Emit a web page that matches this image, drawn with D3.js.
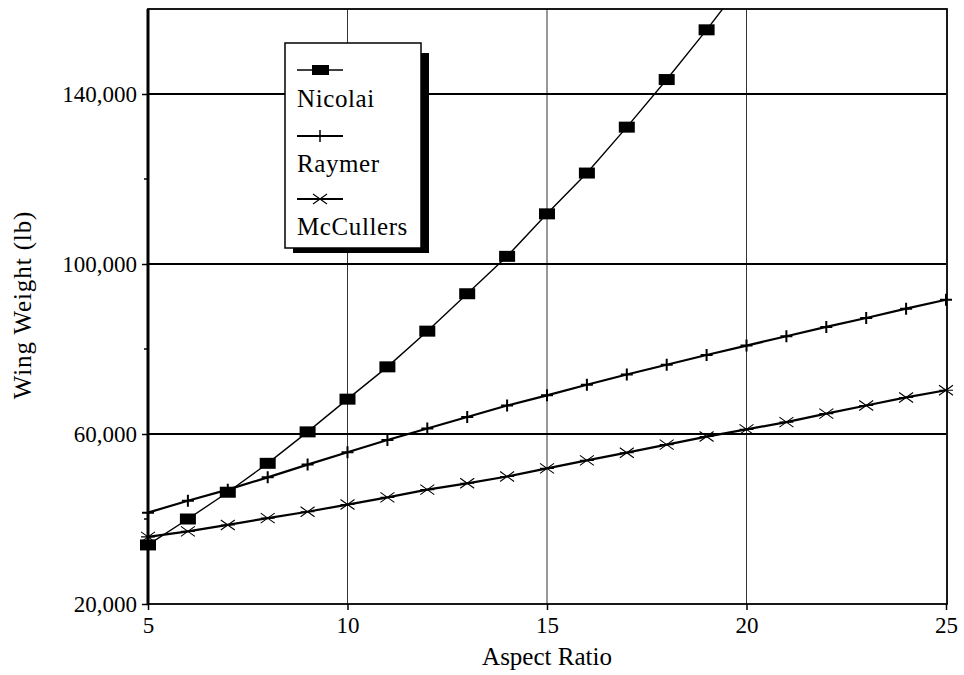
<!DOCTYPE html>
<html>
<head>
<meta charset="utf-8">
<script src="https://cdn.jsdelivr.net/npm/d3@7"></script>
<style>
  body { margin: 0; background: #fff; }
  svg { display: block; font-family: "Liberation Serif", "Times New Roman", serif; }
  .tick text { font-size: 23px; fill: #000; }
  .axlab { font-size: 25px; fill: #000; }
  .legtext { font-size: 25px; fill: #000; letter-spacing: 0.6px; }
</style>
</head>
<body>
<svg id="chart" width="964" height="675"></svg>
<script>
// aspect ratio vs wing weight, three methods
var aspect = [5,6,7,8,9,10,11,12,13,14,15,16,17,18,19,20,21,22,23,24,25];
var nicolaiAR = [5,6,7,8,9,10,11,12,13,14,15,16,17,18,19,20];
var nicolai = [33900,40000,46300,53100,60500,68200,75800,84200,93000,101800,111800,121400,132200,143400,155100,167300];
var raymer = [41500,44300,46900,49800,52800,55700,58600,61300,64000,66700,69100,71600,74000,76300,78600,80800,83000,85200,87300,89500,91600];
var mccullers = [35800,37100,38600,40200,41700,43400,45100,46900,48400,50000,51900,53800,55600,57500,59400,61100,62800,64800,66700,68600,70300];
var seriesNames = ["Nicolai","Raymer","McCullers"];
var xTicks = [5,10,15,20,25];
var yTicks = [20000,60000,100000,140000];
var yMinor = [40000,80000,120000];

const pLeft = 148, pRight = 946, pTop = 9, pBottom = 604;
const serif = "'Liberation Serif', 'Times New Roman', serif";

var x = d3.scaleLinear().domain([5,25]).range([pLeft,pRight]);
var y = d3.scaleLinear().domain([20000,160000]).range([pBottom,pTop]);

var svg = d3.select("#chart");

svg.append("clipPath").attr("id","plotclip")
  .append("rect")
    .attr("x",pLeft - 20).attr("y",pTop)
    .attr("width",(pRight - pLeft) + 40).attr("height",(pBottom - pTop) + 20);

// grid
svg.append("g").selectAll("line")
  .data([10,15,20])
  .enter().append("line")
    .attr("x1",function(d){return x(d);}).attr("x2",function(d){return x(d);})
    .attr("y1",pTop).attr("y2",pBottom)
    .attr("stroke","#333").attr("stroke-width",1);

svg.append("g").selectAll("line")
  .data([60000,100000,140000])
  .enter().append("line")
    .attr("x1",pLeft).attr("x2",pRight)
    .attr("y1",function(d){return y(d);}).attr("y2",function(d){return y(d);})
    .attr("stroke","#000").attr("stroke-width",1.8);

// frame
svg.append("rect")
  .attr("x",pLeft).attr("y",pTop)
  .attr("width",pRight - pLeft + 1).attr("height",pBottom - pTop)
  .attr("fill","none").attr("stroke","#000").attr("stroke-width",1.8);
svg.append("line")
  .attr("x1",pLeft).attr("x2",pLeft).attr("y1",pTop).attr("y2",pBottom)
  .attr("stroke","#000").attr("stroke-width",3);

// axes
var xAxis = d3.axisBottom(x).tickValues(xTicks).tickSize(6).tickFormat(d3.format("d"));
var gx = svg.append("g")
  .attr("transform","translate(0,"+ pBottom +")")
  .call(xAxis)
  .attr("font-family",serif).attr("font-size",23);
gx.select(".domain").remove();
gx.selectAll("line").attr("stroke-width",1.5);
gx.selectAll("text").attr("y",29).attr("dy",0);

var yAxis = d3.axisLeft(y).tickValues(yTicks).tickSize(6).tickPadding(5).tickFormat(d3.format(","));
var gy = svg.append("g")
  .attr("transform","translate("+ pLeft +",0)")
  .call(yAxis)
  .attr("font-family",serif).attr("font-size",23);
gy.select(".domain").remove();
gy.selectAll("line").attr("stroke-width",1.5);
gy.selectAll("text").attr("dy","0.33em");

svg.append("g").selectAll("line")
  .data(yMinor)
  .enter().append("line")
    .attr("x1",pLeft - 4).attr("x2",pLeft)
    .attr("y1",function(d){return y(d);}).attr("y2",function(d){return y(d);})
    .attr("stroke","#000").attr("stroke-width",1.5);

svg.append("text").attr("class","axlab")
  .attr("text-anchor","middle")
  .attr("transform","translate("+ ((pLeft + pRight) / 2) +",665)")
  .text("Aspect Ratio");

svg.append("text").attr("class","axlab")
  .attr("text-anchor","middle")
  .attr("letter-spacing","0.9px")
  .attr("transform","translate(31,305) rotate(-90)")
  .text("Wing Weight (lb)");

// lines
var plot = svg.append("g").attr("clip-path","url(#plotclip)");

var line = d3.line()
  .x(function(d){return x(d[0]);})
  .y(function(d){return y(d[1]);});

var nicPts = d3.zip(nicolaiAR, nicolai);
var rayPts = d3.zip(aspect, raymer);
var mcPts = d3.zip(aspect, mccullers);

plot.append("path").datum(rayPts)
  .attr("d",line).attr("fill","none").attr("stroke","#000").attr("stroke-width",2.2);
plot.append("path").datum(mcPts)
  .attr("d",line).attr("fill","none").attr("stroke","#000").attr("stroke-width",2.2);
plot.append("path").datum(nicPts)
  .attr("d",line).attr("fill","none").attr("stroke","#000").attr("stroke-width",1.4);

var plusPath = "M-6,0H6M0,-6V6";
var starPath = "M-7,-5L7,5M-7,5L7,-5M-7,0H7";

plot.selectAll(".ray").data(rayPts)
  .enter().append("path")
    .attr("class","ray")
    .attr("transform",function(d){return "translate("+ x(d[0]) +","+ y(d[1]) +")";})
    .attr("d",plusPath).attr("stroke","#000").attr("stroke-width",2).attr("fill","none");

plot.selectAll(".mc").data(mcPts)
  .enter().append("path")
    .attr("class","mc")
    .attr("transform",function(d){return "translate("+ x(d[0]) +","+ y(d[1]) +")";})
    .attr("d",starPath).attr("stroke","#000").attr("stroke-width",1.1).attr("fill","none");

plot.selectAll(".nic").data(nicPts)
  .enter().append("rect")
    .attr("class","nic")
    .attr("x",function(d){return x(d[0]) - 8;})
    .attr("y",function(d){return y(d[1]) - 5.5;})
    .attr("width",16).attr("height",11)
    .attr("fill","#000");

// legend with drop shadow
var leg = svg.append("g");
leg.append("rect").attr("x",293).attr("y",53).attr("width",136).attr("height",200).attr("fill","#000");
leg.append("rect").attr("x",285).attr("y",43).attr("width",136).attr("height",205)
  .attr("fill","#fff").attr("stroke","#000").attr("stroke-width",1.5);

var legY = [70,136,199];
var legTextY = [107,172,235];
var legMarks = [null, plusPath, starPath];

seriesNames.forEach(function(name,i){
  leg.append("line")
    .attr("x1",297).attr("x2",343)
    .attr("y1",legY[i]).attr("y2",legY[i])
    .attr("stroke","#000").attr("stroke-width",i == 0 ? 1.4 : 2);
  if (i == 0) {
    leg.append("rect").attr("x",312).attr("y",legY[i] - 5).attr("width",17).attr("height",10).attr("fill","#000");
  } else {
    leg.append("path")
      .attr("transform","translate(320,"+ legY[i] +")")
      .attr("d",legMarks[i]).attr("stroke","#000")
      .attr("stroke-width",i == 1 ? 1.5 : 1.1).attr("fill","none");
  }
  leg.append("text").attr("class","legtext")
    .attr("x",297).attr("y",legTextY[i])
    .text(name);
});
</script>
</body>
</html>
